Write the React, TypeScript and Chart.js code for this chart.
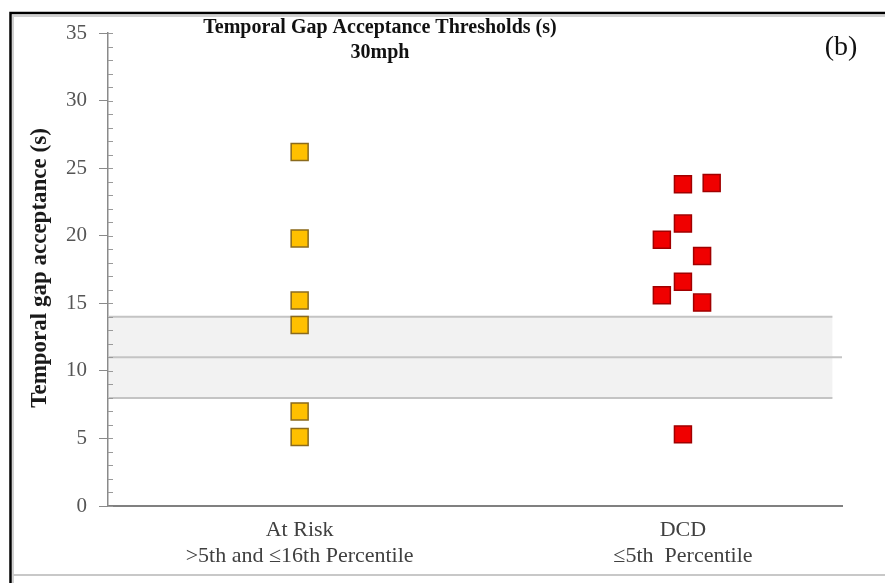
import React, { useEffect, useRef } from "react";
import { Chart, registerables } from "chart.js";

Chart.register(...registerables);

// Group labels on the horizontal axis (one entry per line)
const categoryLines: string[][] = [
  ["At Risk", ">5th and \u226416th Percentile"],
  ["DCD", "\u22645th  Percentile"],
];
const categoryPositions = [1, 3];

// Temporal gap acceptance values (s)
const atRiskValues = [26.2, 19.8, 15.2, 13.4, 7.0, 5.1];
const atRiskJitter = [0, 0, 0, 0, 0, 0];
const dcdValues = [23.8, 23.9, 20.9, 19.7, 18.5, 16.6, 15.6, 15.05, 5.3];
const dcdJitter = [0, 0.15, 0, -0.11, 0.1, 0, -0.11, 0.1, 0];

// Normative band
const bandLow = 8;
const bandMid = 11;
const bandHigh = 14;

const yTicks = [0, 5, 10, 15, 20, 25, 30, 35];

const SERIF = "'Liberation Serif', 'Times New Roman', serif";

const decorPlugin = {
  id: "decor",
  beforeDatasetsDraw(chart: any) {
    const { ctx, chartArea, scales } = chart;
    const y = scales.y;
    const x = scales.x;
    const bandRight = x.getPixelForValue(3.78);
    ctx.save();
    // shaded band
    ctx.fillStyle = "#f2f2f2";
    const yHi = y.getPixelForValue(bandHigh);
    const yLo = y.getPixelForValue(bandLow);
    ctx.fillRect(chartArea.left + 1, yHi, bandRight - chartArea.left - 1, yLo - yHi);
    ctx.strokeStyle = "#c4c4c4";
    ctx.lineWidth = 2;
    ctx.beginPath();
    ctx.moveTo(chartArea.left, yHi);
    ctx.lineTo(bandRight, yHi);
    ctx.moveTo(chartArea.left, yLo);
    ctx.lineTo(bandRight, yLo);
    ctx.stroke();
    const yM = y.getPixelForValue(bandMid);
    ctx.beginPath();
    ctx.moveTo(chartArea.left, yM);
    ctx.lineTo(chartArea.right, yM);
    ctx.stroke();

    // minor ticks on the inner side of the vertical axis
    ctx.strokeStyle = "#9a9a9a";
    ctx.lineWidth = 1;
    ctx.beginPath();
    for (let v = 0; v <= 35; v += 1) {
      const py = Math.round(y.getPixelForValue(v)) + 0.5;
      ctx.moveTo(chartArea.left, py);
      ctx.lineTo(chartArea.left + 5, py);
    }
    ctx.stroke();
    ctx.restore();
  },
  afterDraw(chart: any) {
    const { ctx, width, height } = chart;
    ctx.save();
    // outer frame
    ctx.strokeStyle = "#d0d0d0";
    ctx.lineWidth = 2;
    ctx.beginPath();
    ctx.moveTo(13, height);
    ctx.lineTo(13, 16);
    ctx.lineTo(width, 16);
    ctx.stroke();
    ctx.strokeStyle = "#000";
    ctx.lineWidth = 2.5;
    ctx.beginPath();
    ctx.moveTo(10.5, height);
    ctx.lineTo(10.5, 13);
    ctx.lineTo(width, 13);
    ctx.stroke();
    ctx.strokeStyle = "#c8c8c8";
    ctx.lineWidth = 2;
    ctx.beginPath();
    ctx.moveTo(13, 575);
    ctx.lineTo(width, 575);
    ctx.stroke();

    // titles
    ctx.fillStyle = "#111";
    ctx.textAlign = "center";
    ctx.textBaseline = "middle";
    ctx.font = `bold 20px ${SERIF}`;
    ctx.fillText("Temporal Gap Acceptance Thresholds (s)", 380, 28);
    ctx.fillText("30mph", 380, 53);
    ctx.font = `28px ${SERIF}`;
    ctx.fillText("(b)", 841, 48);

    // vertical axis title
    ctx.translate(40, 268);
    ctx.rotate(-Math.PI / 2);
    ctx.font = `bold 23px ${SERIF}`;
    ctx.fillStyle = "#1a1a1a";
    ctx.fillText("Temporal gap acceptance (s)", 0, 0);
    ctx.restore();
  },
};

export default function App() {
  const ref = useRef<HTMLCanvasElement | null>(null);

  useEffect(() => {
    if (!ref.current) return;
    const chart = new Chart(ref.current, {
      type: "scatter",
      data: {
        datasets: [
          {
            label: "At Risk",
            data: atRiskValues.map((v, i) => ({ x: categoryPositions[0] + atRiskJitter[i], y: v })),
            pointStyle: "rect",
            pointRadius: 12,
            pointHoverRadius: 12,
            backgroundColor: "#ffc000",
            borderColor: "#8a6a1c",
            borderWidth: 1.5,
          },
          {
            label: "DCD",
            data: dcdValues.map((v, i) => ({ x: categoryPositions[1] + dcdJitter[i], y: v })),
            pointStyle: "rect",
            pointRadius: 12,
            pointHoverRadius: 12,
            backgroundColor: "#f00000",
            borderColor: "#a00000",
            borderWidth: 1.5,
          },
        ],
      },
      options: {
        animation: false,
        responsive: false,
        layout: { padding: { top: 33, right: 43, left: 0, bottom: 0 } },
        plugins: {
          legend: { display: false },
          tooltip: { enabled: false },
          title: { display: false },
        },
        scales: {
          x: {
            type: "linear",
            min: 0,
            max: 3.83,
            afterFit(scale: any) {
              scale.height = 77;
            },
            afterBuildTicks(scale: any) {
              scale.ticks = categoryPositions.map((v) => ({ value: v }));
            },
            ticks: {
              autoSkip: false,
              maxRotation: 0,
              padding: 11,
              color: "#404040",
              font: { family: SERIF, size: 22, lineHeight: 1.2 },
              callback: (value: any) => {
                const idx = categoryPositions.indexOf(Number(value));
                return idx >= 0 ? categoryLines[idx] : "";
              },
            },
            grid: { display: false, drawTicks: false },
            border: { display: true, color: "#808080", width: 2 },
          },
          y: {
            type: "linear",
            min: 0,
            max: 35,
            afterFit(scale: any) {
              scale.width = 108;
            },
            afterBuildTicks(scale: any) {
              scale.ticks = yTicks.map((v) => ({ value: v }));
            },
            ticks: {
              padding: 12,
              color: "#555",
              font: { family: SERIF, size: 21 },
            },
            grid: {
              drawOnChartArea: false,
              drawTicks: true,
              tickLength: 9,
              color: "#8a8a8a",
            },
            border: { display: true, color: "#8a8a8a", width: 1.5 },
          },
        },
      },
      plugins: [decorPlugin],
    });
    return () => chart.destroy();
  }, []);

  return (
    <div style={{ position: "fixed", left: 0, top: 0, width: 885, height: 583, background: "#fff" }}>
      <canvas ref={ref} width={885} height={583} style={{ display: "block" }} />
    </div>
  );
}
